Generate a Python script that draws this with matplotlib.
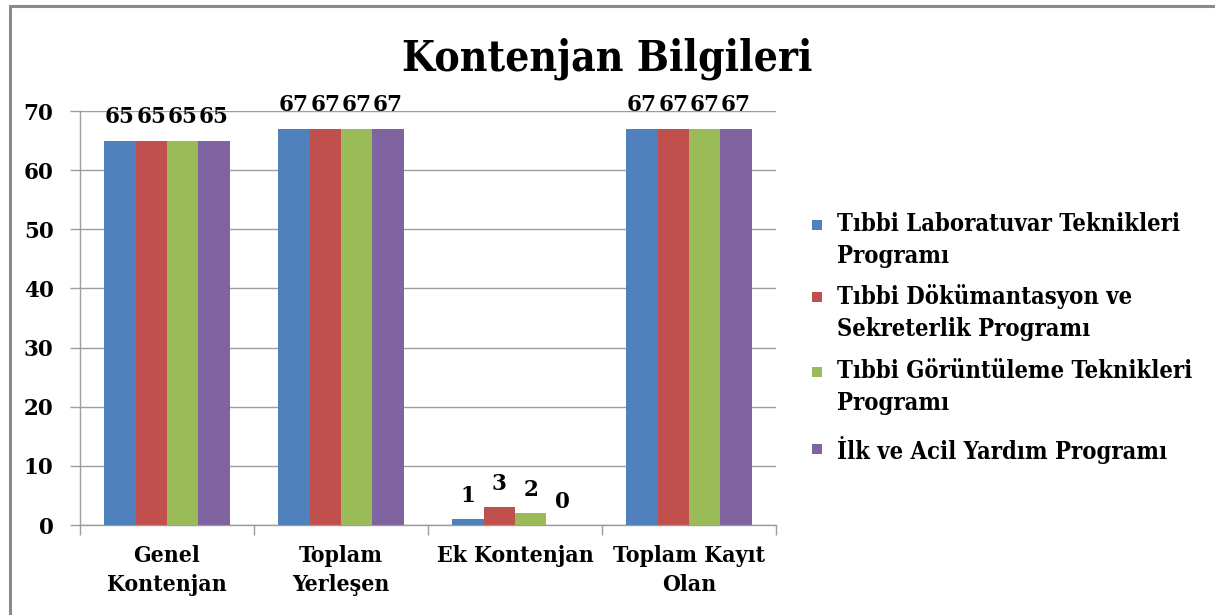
import matplotlib
matplotlib.use("Agg")
import matplotlib.pyplot as plt
from matplotlib.patches import Rectangle
import numpy as np

# ---- data ----
categories = ["Genel\nKontenjan", "Toplam\nYerleşen", "Ek Kontenjan", "Toplam Kayıt\nOlan"]
series_names = [
    "Tıbbi Laboratuvar Teknikleri\nProgramı",
    "Tıbbi Dökümantasyon ve\nSekreterlik Programı",
    "Tıbbi Görüntüleme Teknikleri\nProgramı",
    "İlk ve Acil Yardım Programı",
]
lab_values = [65, 67, 1, 67]
dok_values = [65, 67, 3, 67]
gor_values = [65, 67, 2, 67]
acil_values = [65, 67, 0, 67]
yticks = [0, 10, 20, 30, 40, 50, 60, 70]
title = "Kontenjan Bilgileri"

colors = ["#4F81BD", "#C0504D", "#9BBB59", "#8064A2"]
series = [lab_values, dok_values, gor_values, acil_values]

FONT = "DejaVu Serif"
STRETCH = "condensed"
plt.rcParams["font.family"] = [FONT, "DejaVu Sans"]
plt.rcParams["font.weight"] = "bold"
plt.rcParams["font.stretch"] = STRETCH

GRID = "#9e9e9e"

W, H = 1215, 615
fig = plt.figure(figsize=(W / 100, H / 100), dpi=100)
fig.patch.set_facecolor("white")

# outer chart border
fig.patches.append(Rectangle((10 / W, -0.1), 1.2, 1.1 - 6 / H, transform=fig.transFigure,
                             fill=False, edgecolor="#8a8a8a", linewidth=2.2, zorder=0))

ax = fig.add_axes([80 / W, 1 - 525 / H, (776 - 80) / W, (525 - 111) / H])

x = np.arange(len(categories))
bw = 0.18
offsets = (np.arange(4) - 1.5) * bw
for i, vals in enumerate(series):
    bars = ax.bar(x + offsets[i], vals, bw, color=colors[i], linewidth=0, zorder=3)
    ax.bar_label(bars, labels=[str(v) for v in vals], padding=9, fontsize=15.5,
                 fontweight="bold", fontstretch="normal", color="black")

ax.set_xlim(-0.5, len(categories) - 0.5)
ax.set_ylim(0, 70)
ax.set_yticks(yticks)
ax.set_yticklabels([str(t) for t in yticks], fontsize=15.5, fontweight="bold",
                   fontstretch="normal")
ax.yaxis.grid(True, color=GRID, linewidth=1.0, zorder=0)
ax.set_axisbelow(True)
ax.tick_params(axis="y", length=7, color=GRID, width=1.0, pad=12)

ax.set_xticks(x)
ax.set_xticklabels(categories, fontsize=16.5, fontweight="bold", linespacing=1.42)
ax.set_xticks(np.arange(len(categories) + 1) - 0.5, minor=True)
ax.tick_params(axis="x", which="major", length=0, pad=14.5)
ax.tick_params(axis="x", which="minor", length=7, color=GRID, width=1.0)

for s in ["top", "right"]:
    ax.spines[s].set_visible(False)
for s in ["left", "bottom"]:
    ax.spines[s].set_color(GRID)
    ax.spines[s].set_linewidth(1.0)

fig.text(0.5, 1 - 70 / H, title, ha="center", va="baseline", fontsize=30.5, fontweight="bold")

# legend (baselines of the first line of each entry)
leg_first_baselines = [233, 305, 380, 457]
for i, name in enumerate(series_names):
    yb = leg_first_baselines[i]
    fig.patches.append(Rectangle((812 / W, 1 - (yb - 3) / H), 10 / W, 10 / H,
                                 transform=fig.transFigure, facecolor=colors[i],
                                 edgecolor="none"))
    fig.text(837 / W, 1 - (yb - 21) / H, name, ha="left", va="top", fontsize=17,
             fontweight="bold", linespacing=1.42)

fig.savefig("out.png", dpi=100)
